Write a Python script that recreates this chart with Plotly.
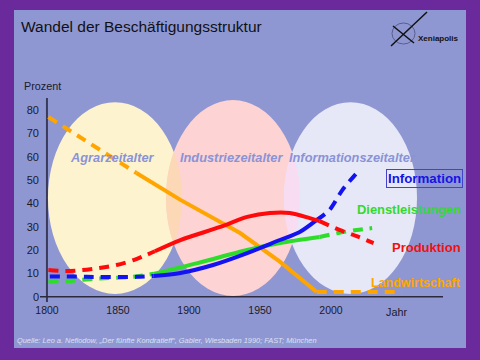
import numpy as np
import plotly.graph_objects as go

# ---------------- data ----------------
jahre_landw = [1801, 1863, 1894, 1936, 1964, 1990, 2050]
landw       = [77.0, 53.0, 41.5, 27.3, 15.0, 2.0, 2.0]
landw_solid = (1, 5)          # index range drawn solid

jahre_prod = [1801, 1813, 1825, 1837, 1849, 1861, 1870, 1876, 1894, 1922, 1941, 1957, 1971, 1985, 1992, 2006, 2018, 2030]
prod       = [11.4, 11.0, 11.4, 12.3, 13.6, 15.7, 17.9, 19.5, 24.3, 29.9, 34.2, 35.9, 35.9, 33.7, 32.4, 28.6, 26.0, 23.0]
prod_solid = (7, 14)

jahre_dienst = [1801, 1814, 1825, 1837, 1861, 1875, 1906, 1941, 1964, 1992, 2005, 2018, 2029]
dienst       = [6.5, 6.6, 7.3, 7.8, 8.6, 9.8, 14.4, 20.0, 23.0, 25.6, 27.3, 28.6, 29.4]
dienst_solid = (5, 9)

jahre_info = [1802, 1814, 1828, 1863, 1875, 1894, 1917, 1941, 1964, 1978, 1990, 1999, 2008, 2020]
info       = [8.7, 8.7, 8.5, 8.5, 8.9, 10.2, 13.6, 18.7, 24.3, 27.7, 32.9, 37.2, 45.7, 54.3]
info_solid = (4, 10)

y_ticks = [0, 10, 20, 30, 40, 50, 60, 70, 80]
x_ticks = [1800, 1850, 1900, 1950, 2000]

zeitalter = ["Agrarzeitalter", "Industriezeitalter", "Informationszeitalter"]
zeitalter_mitte = [1846, 1930, 2015]
# ellipse extents (years, percent)
zeitalter_x = [(1800.7, 1895.1), (1883.8, 1978.2), (1966.9, 2060.6)]
zeitalter_y = [(1.2, 83.4), (0.3, 84.3), (1.2, 83.4)]

# ---------------- styling ----------------
W, H = 480, 360
ML, MR, MT, MB = 40, 37, 98, 58
XR = [1795.1, 2078.9]
YR = [-2.27, 85.17]
PW, PH = W - ML - MR, H - MT - MB

def xp(px):
    return (px - ML) / PW

def yp(py):
    return (H - MB - py) / PH

PANEL = "#8F97D2"
PURPLE = "#6B2A9B"
FONT = "Liberation Sans, Arial, sans-serif"
ell_cols = ["#FDF3CF", "#FDD3D3", "#E6E8F8"]
lens_cols = ["#FCD8B7", "#F8DCF1"]

fig = go.Figure()

def add_series(xs, ys, solid, color, spline):
    a, b = solid
    segs = [(0, a, "10px,7px"), (a, b, "solid"), (b, len(xs) - 1, "10px,7px")]
    for i0, i1, dash in segs:
        if i1 <= i0:
            continue
        fig.add_trace(go.Scatter(
            x=xs[i0:i1 + 1], y=ys[i0:i1 + 1], mode="lines",
            line=dict(color=color, width=4, dash=dash,
                      shape="spline" if spline else "linear", smoothing=0.8),
            hoverinfo="skip", showlegend=False))

add_series(jahre_landw, landw, landw_solid, "#FFA500", False)
add_series(jahre_dienst, dienst, dienst_solid, "#2EDC2A", True)
add_series(jahre_info, info, info_solid, "#1212F2", True)
add_series(jahre_prod, prod, prod_solid, "#FF0A0A", True)

shapes = []
# panel
shapes.append(dict(type="rect", xref="paper", yref="paper", layer="below",
                   x0=xp(14), x1=xp(466), y0=yp(348), y1=yp(10),
                   fillcolor=PANEL, line=dict(width=0)))
# ellipses
ells = []
for (x0, x1), (y0, y1), c in zip(zeitalter_x, zeitalter_y, ell_cols):
    shapes.append(dict(type="circle", xref="x", yref="y", layer="below",
                       x0=x0, x1=x1, y0=y0, y1=y1, fillcolor=c, line=dict(width=0)))
    ells.append(((x0 + x1) / 2, (y0 + y1) / 2, (x1 - x0) / 2, (y1 - y0) / 2))

def inside(e, x, y):
    cx, cy, rx, ry = e
    return ((x - cx) / rx) ** 2 + ((y - cy) / ry) ** 2 <= 1.0

def lens(e1, e2):
    t = np.linspace(0, 2 * np.pi, 720, endpoint=False)
    pts = []
    for a, b in ((e1, e2), (e2, e1)):
        cx, cy, rx, ry = a
        xs = cx + rx * np.cos(t)
        ys = cy + ry * np.sin(t)
        m = inside(b, xs, ys)
        pts += list(zip(xs[m], ys[m]))
    pts = np.array(pts)
    mx, my = pts[:, 0].mean(), pts[:, 1].mean()
    ang = np.arctan2((pts[:, 1] - my) / (YR[1] - YR[0]) * PH, (pts[:, 0] - mx) / (XR[1] - XR[0]) * PW)
    pts = pts[np.argsort(ang)]
    return "M " + " L ".join(f"{x:.3f},{y:.3f}" for x, y in pts) + " Z"

for i, c in enumerate(lens_cols):
    shapes.append(dict(type="path", xref="x", yref="y", layer="below",
                       path=lens(ells[i], ells[i + 1]), fillcolor=c, line=dict(width=0)))

# axis lines
shapes.append(dict(type="line", xref="x", yref="paper", layer="below",
                   x0=1800, x1=1800, y0=0, y1=1, line=dict(color="#3A3A5C", width=2)))
shapes.append(dict(type="line", xref="paper", yref="y", layer="below",
                   x0=0, x1=1, y0=0, y1=0, line=dict(color="#2A2A3C", width=1.5)))
# logo
shapes.append(dict(type="circle", xref="paper", yref="paper",
                   x0=xp(392), x1=xp(415), y0=yp(44), y1=yp(23),
                   line=dict(color="#5A5E8E", width=1)))
shapes.append(dict(type="line", xref="paper", yref="paper",
                   x0=xp(391), y0=yp(46), x1=xp(427), y1=yp(12),
                   line=dict(color="#111111", width=1.5)))
shapes.append(dict(type="line", xref="paper", yref="paper",
                   x0=xp(393), y0=yp(26), x1=xp(414), y1=yp(43),
                   line=dict(color="#111111", width=1.5)))

ann = []
for name, xm in zip(zeitalter, zeitalter_mitte):
    ann.append(dict(text=name, x=xm, y=59.8, xref="x", yref="y", showarrow=False,
                    font=dict(family=FONT, size=12.8, color="#8A93D6", weight="bold", style="italic")))

labels = [("Information", "#1414E6", 178, True, 13.3),
          ("Dienstleistungen", "#33D92E", 209, False, 12.9),
          ("Produktion", "#F01010", 247, False, 13),
          ("Landwirtschaft", "#FFA500", 283, False, 12.5)]
for txt, col, py, box, fs in labels:
    d = dict(text=txt, x=xp(463), y=yp(py), xref="paper", yref="paper",
             xanchor="right", yanchor="middle", showarrow=False,
             font=dict(family=FONT, size=fs, color=col, weight="bold"))
    if box:
        d.update(bordercolor="#4444C8", borderwidth=1, borderpad=1)
    ann.append(d)

ann.append(dict(text="Prozent", x=xp(22), y=yp(86), xref="paper", yref="paper",
                xanchor="left", yanchor="middle", showarrow=False,
                font=dict(family=FONT, size=10.8, color="#1A1A2A")))
ann.append(dict(text="Jahr", x=xp(396), y=yp(312), xref="paper", yref="paper",
                xanchor="center", yanchor="middle", showarrow=False,
                font=dict(family=FONT, size=10.8, color="#1A1A2A")))
ann.append(dict(text="Xeniapolis", x=xp(416), y=yp(39), xref="paper", yref="paper",
                xanchor="left", yanchor="middle", showarrow=False,
                font=dict(family=FONT, size=8, color="#111111", weight="bold")))
ann.append(dict(text="Quelle: Leo a. Nefiodow, \u201eDer fünfte Kondratieff\u201c, Gabler, Wiesbaden 1990; FAST; München",
                x=xp(15), y=yp(340), xref="paper", yref="paper",
                xanchor="left", yanchor="middle", showarrow=False,
                font=dict(family=FONT, size=7.4, color="#DDE0F5", style="italic")))

fig.update_layout(
    width=W, height=H, margin=dict(l=ML, r=MR, t=MT, b=MB, pad=0),
    paper_bgcolor=PURPLE, plot_bgcolor="rgba(0,0,0,0)",
    title=dict(text="Wandel der Beschäftigungsstruktur", xref="container", yref="container",
               x=21 / W, xanchor="left", y=1 - 27 / H, yanchor="middle",
               font=dict(family=FONT, size=15.5, color="#111111")),
    xaxis=dict(range=XR, tickvals=x_ticks, ticktext=[str(v) for v in x_ticks],
               showgrid=False, zeroline=False, showline=False, ticks="",
               tickfont=dict(family=FONT, size=10.5, color="#1A1A2A"), fixedrange=True),
    yaxis=dict(range=YR, tickvals=y_ticks, showgrid=False, zeroline=False, showline=False,
               ticks="", tickfont=dict(family=FONT, size=11, color="#1A1A2A"), fixedrange=True),
    shapes=shapes, annotations=ann, showlegend=False,
)

fig.write_html("out.html", config={"displayModeBar": False},
               post_script="document.body.style.margin='0';document.body.style.overflow='hidden';")
